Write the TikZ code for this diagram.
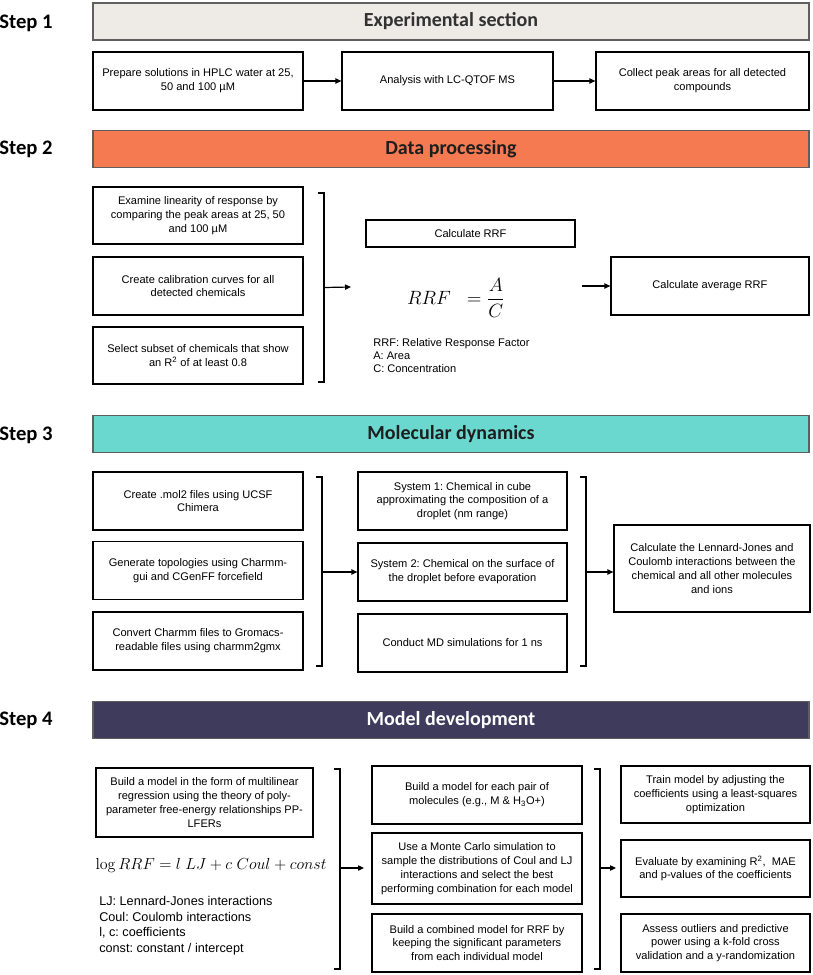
\documentclass[tikz,border=0pt]{standalone}
\usepackage[no-math]{fontspec}
\setmainfont{Liberation Sans}
\newfontfamily\headfont{Carlito}
\usetikzlibrary{arrows.meta,calc}

\definecolor{paleBand}{RGB}{238,235,231}
\definecolor{coralBand}{RGB}{245,122,82}
\definecolor{tealBand}{RGB}{106,216,207}
\definecolor{navyBand}{RGB}{63,59,92}
\definecolor{bandEdge}{RGB}{95,95,95}

\frenchspacing

\begin{document}
\begin{tikzpicture}[
  x=0.75pt, y=-0.75pt,
  line/.style={line width=0.9pt},
  arr/.style={line width=0.9pt, -{Triangle[length=4.5pt,width=4pt]}},
  box/.style={draw, line width=0.9pt, fill=white, align=center, inner sep=2pt,
    font=\fontsize{8.3}{10.4}\selectfont},
  wh/.style 2 args={minimum width=#1*0.75pt, minimum height=#2*0.75pt},
  band/.style={draw=bandEdge, line width=1.1pt, minimum width=716*0.75pt,
    minimum height=37*0.75pt, font=\headfont\bfseries\fontsize{15}{17}\selectfont},
  steplabel/.style={font=\headfont\bfseries\fontsize{15.5}{17}\selectfont},
  note/.style={align=left, anchor=north west, inner sep=0pt,
    font=\fontsize{8.3}{10}\selectfont}
]
\useasboundingbox (0,0) rectangle (813,975);

%================================================
% STEP 1:  experimental section
%================================================
\node[steplabel] (lab1) at (26,23) {Step 1};
\node[band, fill=paleBand, text={rgb,255:red,50;green,50;blue,50}] (band1) at (451,21.5) {Experimental section};

\node[box, wh={210}{58}] (prep) at (198,81)
  {Prepare solutions in HPLC water at 25,\\ 50 and 100 µM};
\node[box, wh={211}{58}] (lcms) at (447.5,81) {Analysis with LC-QTOF MS};
\node[box, wh={213}{58}] (peaks) at (702.5,81)
  {Collect peak areas for all detected\\ compounds};

\draw[arr] (prep) -- (lcms);
\draw[arr] (lcms) -- (peaks);

%================================================
% STEP 2:  data processing
%================================================
\node[steplabel] (lab2) at (26,149) {Step 2};
\node[band, fill=coralBand, text={rgb,255:red,30;green,30;blue,30}] (band2) at (451,149) {Data processing};

\node[box, wh={210}{57}] (lin) at (198,215.5)
  {Examine linearity of response by\\ comparing the peak areas at 25, 50\\ and 100 µM};
\node[box, wh={210}{58}] (calib) at (198,286)
  {Create calibration curves for all\\ detected chemicals};
\node[box, wh={210}{57}] (subset) at (198,355.5)
  {Select subset of chemicals that show\\ an R\textsuperscript{2} of at least 0.8};

% bracket and arrow
\coordinate (b2t) at (324,193);
\coordinate (b2b) at (324,382);
\coordinate (b2m) at ($(b2t)!0.5!(b2b)$);
\draw[line] ($(b2t)+(-6,0)$) -- (b2t) -- (b2b) -- ($(b2b)+(-6,0)$);
\coordinate (f2in) at (351,287);
\draw[arr] (b2m) -- (f2in);

\node[box, wh={209}{27}] (rrf) at (470.5,233.5) {Calculate RRF};
\node[font=\fontsize{15}{17}\selectfont] (frac) at (456,298)
  {$RRF\;\;=\displaystyle\frac{A}{C}$};
\node[note] (legend2) at (373,338)
  {RRF: Relative Response Factor\\ A: Area\\ C: Concentration};

\node[box, wh={198}{58}] (avg) at (710,286) {Calculate average RRF};
\coordinate (f2out) at (582,286);
\draw[arr] (f2out) -- (avg);

%================================================
% STEP 3:  molecular dynamics
%================================================
\node[steplabel] (lab3) at (26,435) {Step 3};
\node[band, fill=tealBand, text={rgb,255:red,30;green,30;blue,30}] (band3) at (451,434) {Molecular dynamics};

\node[box, wh={210}{58}] (mol2) at (198,501)
  {Create .mol2 files using UCSF\\ Chimera};
\node[box, wh={210}{58}] (topo) at (198,570.5)
  {Generate topologies using Charmm-\\gui and CGenFF forcefield};
\node[box, wh={210}{58}] (conv) at (198,641)
  {Convert Charmm files to Gromacs-\\readable files using charmm2gmx};

\node[box, wh={209}{58}] (sys1) at (462.5,501)
  {System 1: Chemical in cube\\ approximating the composition of a\\ droplet (nm range)};
\node[box, wh={209}{58}] (sys2) at (462.5,572)
  {System 2: Chemical on the surface of\\ the droplet before evaporation};
\node[box, wh={209}{58}] (mdrun) at (462.5,643)
  {Conduct MD simulations for 1 ns};

\node[box, wh={196}{87}] (ljc) at (712,568.5)
  {Calculate the Lennard-Jones and\\ Coulomb interactions between the\\ chemical and all other molecules\\ and ions};

% brackets and arrows
\coordinate (b3t) at (322,477);
\coordinate (b3b) at (322,666);
\coordinate (b3m) at (322,572);
\draw[line] ($(b3t)+(-6,0)$) -- (b3t) -- (b3b) -- ($(b3b)+(-6,0)$);
\draw[arr] (b3m) -- (b3m -| sys2.west);

\coordinate (c3t) at (586,477);
\coordinate (c3b) at (586,666);
\coordinate (c3m) at (586,572);
\draw[line] ($(c3t)+(-6,0)$) -- (c3t) -- (c3b) -- ($(c3b)+(-6,0)$);
\draw[arr] (c3m) -- (c3m -| ljc.west);

%================================================
% STEP 4:  model development
%================================================
\node[steplabel] (lab4) at (26,720) {Step 4};
\node[band, fill=navyBand, text=white] (band4) at (451,720) {Model development};

\node[box, wh={217}{69}] (mlr) at (204.5,802.5)
  {Build a model in the form of multilinear\\ regression using the theory of poly-\\parameter free-energy relationships PP-\\LFERs};
\node[font=\fontsize{12.2}{14}\selectfont] (logeq) at (211,865)
  {$\log RRF = l\;LJ + c\;Coul + const$};
\node[note, font=\fontsize{9.5}{11.7}\selectfont] (legend4) at (99,896)
  {LJ: Lennard-Jones interactions\\ Coul: Coulomb interactions\\ l, c: coefficients\\ const: constant / intercept};

\node[box, wh={210}{58}] (pairs) at (477,795)
  {Build a model for each pair of\\ molecules (e.g., M \& H\textsubscript{3}O+)};
\node[box, wh={210}{71}] (mc) at (477,868.5)
  {Use a Monte Carlo simulation to\\ sample the distributions of Coul and LJ\\ interactions and select the best\\ performing combination for each model};
\node[box, wh={210}{58}] (comb) at (477,943)
  {Build a combined model for RRF by\\ keeping the significant parameters\\ from each individual model};

\node[box, wh={189}{57}] (train) at (715.5,794.5)
  {Train model by adjusting the\\ coefficients using a least-squares\\ optimization};
\node[box, wh={189}{57}] (eval) at (715.5,868.5)
  {Evaluate by examining R\textsuperscript{2},\ \ MAE\\ and p-values of the coefficients};
\node[box, wh={189}{58}] (assess) at (715.5,943)
  {Assess outliers and predictive\\ power using a k-fold cross\\ validation and a y-randomization};

% brackets and arrows
\coordinate (b4t) at (340,769);
\coordinate (b4b) at (340,969);
\coordinate (b4m) at (340,868);
\draw[line] ($(b4t)+(-6,0)$) -- (b4t) -- (b4b) -- ($(b4b)+(-6,0)$);
\coordinate (m4in) at (364,868);
\draw[arr] (b4m) -- (m4in);

\coordinate (c4t) at (600,769);
\coordinate (c4b) at (600,969);
\coordinate (c4m) at (600,868);
\draw[line] ($(c4t)+(-6,0)$) -- (c4t) -- (c4b) -- ($(c4b)+(-6,0)$);
\coordinate (r4in) at (616,868);
\draw[arr] (c4m) -- (r4in);

\end{tikzpicture}
\end{document}
